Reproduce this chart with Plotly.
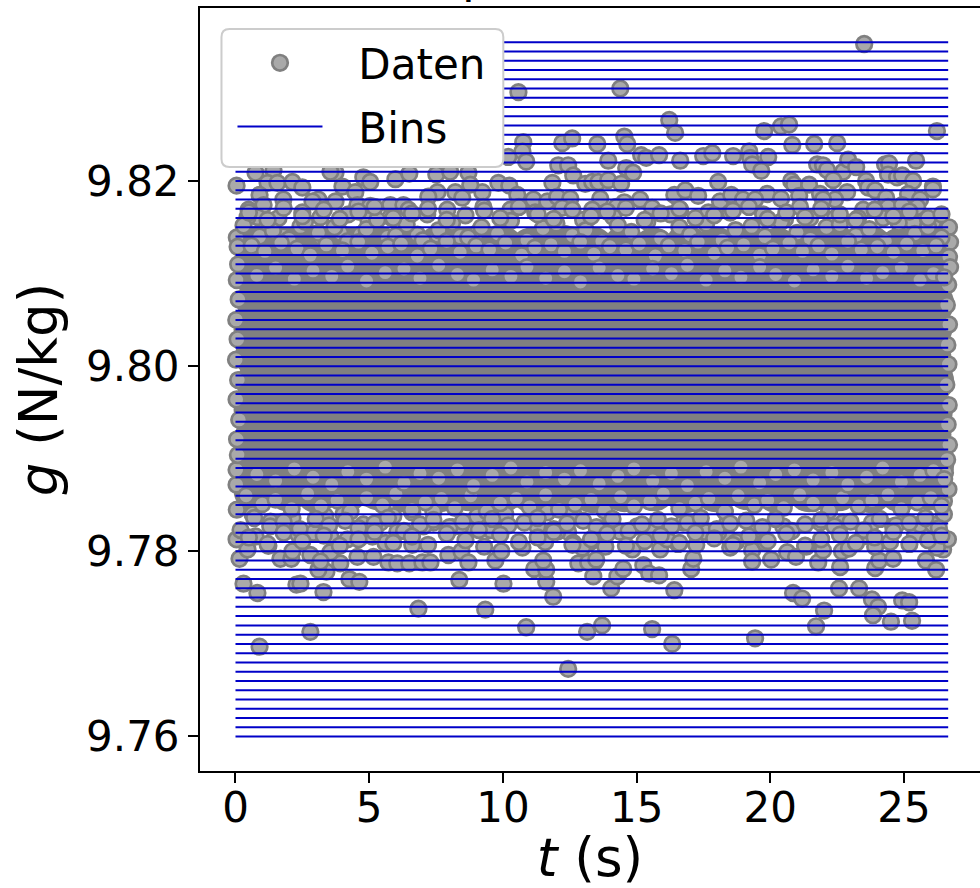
import plotly.graph_objects as go

t_top = [23.51,10.58,14.39,16.22,16.44,26.23,19.77,20.40,20.70,22.50,21.64,20.82,10.76,10.73,12.22,12.59,13.53,14.54,14.65,15.17,15.36,15.84,16.63,17.49,17.83,18.61,19.21,19.25,19.92,19.32,19.66,10.87,10.20,12.07,12.44,12.63,13.94,14.61,14.87,11.85,13.08,13.34,13.57,13.94,14.42,18.05,9.83,10.24,9.23,10.54,11.14,11.66,12.03,12.52,13.64,14.54,15.13,15.58,16.41,16.82,17.30,18.12,9.27,10.28,11.21,12.22,13.34,14.24,16.63,17.68,16.26,14.13,13.00,
 22.72,22.91,23.21,21.75,21.97,22.12,22.35,23.58,24.29,24.44,25.45,24.40,24.74,24.93,25.34,26.08,26.08,20.78,20.89,21.45,22.87,23.66,23.92,19.88,18.54,20.40,21.08,21.86,22.42,21.97,24.33,25.15,25.60,18.98,19.43,21.11,23.47,23.92,24.40,24.93,25.49,19.73,18.50,20.55,21.49,22.42,23.28,24.22,25.34,26.08,26.68,26.72,26.68,26.72,
 0.75,1.42,0.04,1.20,1.57,2.13,2.50,0.90,1.79,1.05,0.49,3.74,3.55,4.78,5.04,5.98,6.50,7.51,8.03,8.71,4.00,4.48,7.55,7.21,8.22,8.78,3.10,2.88,3.74,4.56,5.04,5.79,6.28,6.47,2.50,3.18,4.22,4.97,5.79,7.17,7.92,8.48,1.61,0.82,0.45,1.79,0.05,0.08,0.10,1.05,2.43,3.18,3.92,4.67,5.68,6.80,7.55,8.41,9.04]
g_top = [9.8348,9.8296,9.8300,9.8266,9.8252,9.8254,9.8254,9.8259,9.8261,9.8241,9.8240,9.8239,9.8242,9.8232,9.8241,9.8246,9.8240,9.8248,9.8240,9.8228,9.8225,9.8228,9.8222,9.8227,9.8230,9.8227,9.8232,9.8225,9.8226,9.8218,9.8211,9.8221,9.8226,9.8217,9.8217,9.8206,9.8222,9.8214,9.8209,9.8198,9.8197,9.8199,9.8199,9.8201,9.8197,9.8199,9.8198,9.8195,9.8188,9.8185,9.8180,9.8178,9.8183,9.8181,9.8181,9.8177,9.8180,9.8171,9.8185,9.8190,9.8184,9.8178,9.8172,9.8169,9.8166,9.8171,9.8169,9.8172,9.8169,9.8166,9.8164,9.8161,9.8158,
 9.8210,9.8223,9.8215,9.8218,9.8217,9.8212,9.8201,9.8200,9.8218,9.8219,9.8222,9.8207,9.8204,9.8206,9.8200,9.8194,9.8191,9.8200,9.8196,9.8196,9.8188,9.8193,9.8190,9.8186,9.8185,9.8181,9.8184,9.8186,9.8180,9.8180,9.8182,9.8186,9.8180,9.8180,9.8180,9.8172,9.8169,9.8169,9.8172,9.8174,9.8172,9.8164,9.8166,9.8159,9.8160,9.8160,9.8160,9.8160,9.8155,9.8155,9.8150,9.8134,9.8118,9.8107,
 9.8209,9.8212,9.8195,9.8198,9.8198,9.8199,9.8193,9.8185,9.8180,9.8174,9.8169,9.8209,9.8210,9.8204,9.8199,9.8202,9.8208,9.8207,9.8210,9.8209,9.8194,9.8188,9.8188,9.8183,9.8188,9.8196,9.8180,9.8178,9.8178,9.8174,9.8173,9.8174,9.8174,9.8169,9.8166,9.8161,9.8164,9.8158,9.8161,9.8164,9.8169,9.8182,9.8160,9.8161,9.8161,9.8140,9.8139,9.8129,9.8110,9.8142,9.8151,9.8140,9.8144,9.8142,9.8139,9.8142,9.8142,9.8140,9.8144]

t_bottom = [0.90,2.80,6.84,9.34,10.87,12.44,13.15,13.71,15.58,16.33,19.43,21.71,22.01,20.85,21.19,22.57,23.32,23.80,24.03,23.84,24.51,25.30,24.93,25.19,14.05,14.28,14.50,15.25,15.47,15.84,16.41,17.04,17.12,13.38,13.45,0.30,0.82,2.28,2.43,3.29,4.26,4.63,8.37,10.02,11.62,11.88,11.17,11.62,11.51,3.40,3.10,3.92,4.56,5.16,5.72,6.05,6.50,6.99,7.29,7.96,8.45,8.71,9.72,9.94,10.73,12.82,13.19,0.15,0.45,1.23,1.68,2.09,2.13,2.80,3.55,6.61,5.61,0.04,2.35,11.58,12.44,9.90,9.53,8.67,8.11,7.40,10.09,11.29,11.66,12.63,13.27,12.03,12.63,13.49,12.97,13.83,13.90,14.84,15.88,16.55,17.23,15.62,16.14,17.56,18.39,18.05,16.74,18.39,15.02,14.39,14.01,18.50,18.72,19.32,19.81,19.32,20.03,21.79,22.61,23.92,24.07,24.59,25.82,26.20,20.63,20.96,21.97,22.68,22.94,23.47,24.48,25.41,26.46,26.64,26.49,19.36,20.48,21.86,22.72,23.80,24.59,25.60,21.34,23.92,26.23,26.08,26.53,26.49,0.75,0.19,3.18,2.13,1.31,0.64,0.05,3.36,4.04,5.42,4.78,6.61,5.90,7.40,9.04,2.91,3.55,4.19,4.67,5.12,6.05,7.03,8.41,0.04,0.04]
g_bottom = [9.7697,9.7713,9.7738,9.7737,9.7718,9.7673,9.7713,9.7720,9.7716,9.7700,9.7706,9.7719,9.7736,9.7755,9.7749,9.7760,9.7760,9.7748,9.7740,9.7731,9.7724,9.7725,9.7747,9.7745,9.7760,9.7773,9.7781,9.7785,9.7776,9.7774,9.7758,9.7781,9.7792,9.7773,9.7789,9.7765,9.7755,9.7764,9.7765,9.7756,9.7770,9.7767,9.7769,9.7765,9.7767,9.7751,9.7781,9.7780,9.7790,9.7778,9.7780,9.7787,9.7794,9.7794,9.7788,9.7787,9.7787,9.7788,9.7788,9.7796,9.7800,9.7788,9.7790,9.7800,9.7804,9.7787,9.7788,9.7792,9.7802,9.7806,9.7792,9.7792,9.7800,9.7796,9.7799,9.7807,9.7809,9.7813,9.7818,9.7810,9.7821,9.7821,9.7823,9.7827,9.7826,9.7831,9.7840,9.7827,9.7842,9.7809,9.7810,9.7821,9.7840,9.7791,9.7804,9.7805,9.7821,9.7802,9.7802,9.7808,9.7807,9.7821,9.7813,9.7821,9.7816,9.7820,9.7831,9.7831,9.7827,9.7821,9.7836,9.7804,9.7810,9.7801,9.7809,9.7789,9.7791,9.7788,9.7783,9.7782,9.7790,9.7792,9.7790,9.7780,9.7799,9.7794,9.7801,9.7800,9.7803,9.7816,9.7810,9.7818,9.7802,9.7813,9.7840,9.7821,9.7827,9.7831,9.7831,9.7831,9.7827,9.7829,9.7805,9.7805,9.7804,9.7829,9.7885,9.7854,9.7816,9.7823,9.7789,9.7836,9.7832,9.7840,9.7845,9.7838,9.7840,9.7831,9.7829,9.7842,9.7838,9.7843,9.7838,9.7820,9.7816,9.7813,9.7815,9.7816,9.7821,9.7827,9.7827,9.7872,9.7888]

t_side = [0.05,0.12,0.03,0.08,0.02,0.10,0.04,0.14,0.06,0.09,26.65,26.60,26.68,26.62,26.66,26.58,26.67,26.63,26.68,26.61,26.66]
g_side = [9.8093,9.8072,9.8050,9.8029,9.8007,9.7985,9.7964,9.7942,9.7921,9.7904,9.8088,9.8066,9.8045,9.8023,9.8002,9.7980,9.7958,9.7937,9.7915,9.7899,9.7867]

# Crowded shoulders of the cloud, estimated by eye
t_upper = [0.3,0.9,1.4,2.0,2.6,3.1,3.7,4.2,4.9,5.3,6.0,6.4,7.0,7.6,8.1,8.7,9.2,9.8,10.3,10.9,11.5,12.0,12.6,13.1,13.7,14.3,14.8,15.4,15.9,16.6,17.0,17.6,18.2,18.7,19.3,19.8,20.4,21.0,21.5,22.1,22.6,23.2,23.7,24.3,24.8,25.4,25.9,26.4,
 0.6,1.1,1.7,2.3,2.8,3.4,4.0,4.6,5.1,5.7,6.2,6.8,7.3,7.9,8.4,9.0,9.5,10.1,10.7,11.2,11.8,12.3,12.9,13.4,14.0,14.6,15.1,15.7,16.2,16.8,17.3,17.9,18.4,19.0,19.6,20.1,20.7,21.2,21.8,22.3,22.9,23.4,24.0,24.6,25.1,25.7,26.2]
g_upper = [9.8152,9.8140,9.8146,9.8137,9.8156,9.8144,9.8150,9.8135,9.8148,9.8158,9.8141,9.8153,9.8136,9.8147,9.8155,9.8139,9.8150,9.8143,9.8157,9.8136,9.8149,9.8154,9.8141,9.8147,9.8135,9.8152,9.8145,9.8156,9.8138,9.8150,9.8142,9.8154,9.8136,9.8147,9.8151,9.8140,9.8156,9.8144,9.8137,9.8150,9.8153,9.8141,9.8148,9.8135,9.8155,9.8143,9.8150,9.8139,
 9.8130,9.8124,9.8133,9.8127,9.8120,9.8131,9.8125,9.8134,9.8122,9.8129,9.8132,9.8119,9.8127,9.8135,9.8123,9.8130,9.8126,9.8133,9.8120,9.8128,9.8131,9.8124,9.8134,9.8121,9.8129,9.8126,9.8132,9.8119,9.8130,9.8125,9.8134,9.8122,9.8128,9.8131,9.8120,9.8127,9.8133,9.8124,9.8130,9.8121,9.8135,9.8126,9.8129,9.8123,9.8132,9.8125,9.8130]

t_lower = [0.4,1.0,1.5,2.1,2.7,3.2,3.8,4.3,4.9,5.5,6.0,6.6,7.1,7.7,8.2,8.8,9.4,9.9,10.5,11.0,11.6,12.1,12.7,13.3,13.8,14.4,14.9,15.5,16.0,16.6,17.2,17.7,18.3,18.8,19.4,19.9,20.5,21.1,21.6,22.2,22.7,23.3,23.8,24.4,24.9,25.5,26.0,26.4,
 0.7,1.3,1.8,2.4,3.0,3.5,4.1,4.6,5.2,5.7,6.3,6.9,7.4,8.0,8.5,9.1,9.6,10.2,10.8,11.3,11.9,12.4,13.0,13.5,14.1,14.7,15.2,15.8,16.3,16.9,17.4,18.0,18.5,19.1,19.7,20.2,20.8,21.3,21.9,22.4,23.0,23.5,24.1,24.7,25.2,25.8,26.3]
g_lower = [9.7860,9.7851,9.7856,9.7846,9.7862,9.7849,9.7855,9.7843,9.7858,9.7850,9.7862,9.7845,9.7853,9.7857,9.7847,9.7860,9.7843,9.7852,9.7857,9.7848,9.7861,9.7845,9.7851,9.7856,9.7844,9.7859,9.7849,9.7854,9.7862,9.7846,9.7852,9.7857,9.7843,9.7860,9.7850,9.7855,9.7847,9.7861,9.7852,9.7844,9.7858,9.7849,9.7855,9.7861,9.7846,9.7853,9.7858,9.7849,
 9.7836,9.7827,9.7832,9.7824,9.7835,9.7828,9.7833,9.7825,9.7830,9.7836,9.7822,9.7829,9.7834,9.7826,9.7832,9.7823,9.7835,9.7828,9.7831,9.7836,9.7824,9.7830,9.7833,9.7826,9.7835,9.7822,9.7829,9.7834,9.7827,9.7831,9.7836,9.7824,9.7830,9.7833,9.7826,9.7835,9.7822,9.7829,9.7834,9.7827,9.7832,9.7823,9.7835,9.7828,9.7831,9.7836,9.7825]

t_band_a = [0.5,1.2,1.8,2.5,3.3,3.9,4.6,5.2,5.9,6.6,7.2,7.9,8.6,9.3,9.9,10.6,11.3,11.9,12.6,13.3,13.9,14.6,15.3,15.9,16.6,17.2,17.9,18.6,19.2,19.9,20.6,21.3,21.9,22.6,23.2,23.9,24.6,25.2,25.9,26.4]
t_band_b = [0.8,1.5,2.2,2.9,3.6,4.2,4.9,5.6,6.3,6.9,7.6,8.3,8.9,9.6,10.3,10.9,11.6,12.3,12.9,13.6,14.3,14.9,15.6,16.3,16.9,17.6,18.3,18.9,19.6,20.2,20.9,21.6,22.3,22.9,23.6,24.2,24.9,25.6,26.1,26.5]
g_shoulder_high = [9.8166,9.8158,9.8171,9.8162,9.8169,9.8159,9.8167,9.8172,9.8160,9.8165,9.8170,9.8158,9.8163,9.8168,9.8160,9.8172,9.8164,9.8159,9.8169,9.8162,9.8167,9.8171,9.8158,9.8165,9.8170,9.8160,9.8163,9.8168,9.8172,9.8159,9.8166,9.8161,9.8170,9.8164,9.8158,9.8169,9.8162,9.8167,9.8160,9.8164]
g_inner_high = [9.8098,9.8106,9.8094,9.8103,9.8097,9.8108,9.8092,9.8101,9.8105,9.8095,9.8109,9.8099,9.8093,9.8104,9.8097,9.8107,9.8095,9.8102,9.8091,9.8106,9.8098,9.8094,9.8105,9.8100,9.8109,9.8093,9.8103,9.8096,9.8107,9.8099,9.8092,9.8104,9.8097,9.8108,9.8095,9.8101,9.8106,9.8093,9.8100,9.8096]
g_inner_low = [9.7883,9.7876,9.7889,9.7880,9.7872,9.7886,9.7878,9.7891,9.7874,9.7884,9.7879,9.7888,9.7871,9.7882,9.7890,9.7875,9.7885,9.7878,9.7887,9.7873,9.7881,9.7889,9.7876,9.7884,9.7871,9.7886,9.7879,9.7891,9.7874,9.7883,9.7888,9.7877,9.7885,9.7872,9.7880,9.7890,9.7875,9.7882,9.7887,9.7878]
g_shoulder_low = [9.7815,9.7808,9.7820,9.7811,9.7817,9.7806,9.7813,9.7821,9.7809,9.7816,9.7807,9.7819,9.7812,9.7805,9.7818,9.7810,9.7815,9.7821,9.7807,9.7813,9.7819,9.7806,9.7811,9.7817,9.7809,9.7820,9.7814,9.7807,9.7816,9.7811,9.7819,9.7806,9.7813,9.7818,9.7809,9.7815,9.7821,9.7808,9.7812,9.7817]

# Core of the cloud: single points overlap too heavily to read here, so these
# estimated points are drawn solid and large, only to give its closed grey mass.
t_core = [0.80,1.95,3.05,4.15,5.35,6.45,7.65,8.75,9.95,11.05,12.25,13.35,14.55,15.65,16.85,17.95,19.15,20.25,21.45,22.55,23.75,24.85,25.95,
 0.75,1.85,3.00,4.25,5.30,6.55,7.60,8.85,9.90,11.15,12.20,13.45,14.50,15.75,16.80,18.05,19.10,20.35,21.40,22.65,23.70,24.95,26.00,
 0.85,1.90,3.10,4.20,5.40,6.50,7.70,8.80,10.00,11.10,12.30,13.40,14.60,15.70,16.90,18.00,19.20,20.30,21.50,22.60,23.80,24.90,26.05,
 0.75,1.95,3.00,4.15,5.30,6.45,7.60,8.75,9.90,11.05,12.20,13.35,14.50,15.65,16.80,17.95,19.10,20.25,21.40,22.55,23.70,24.85,26.00,
 0.80,1.85,3.05,4.25,5.35,6.55,7.65,8.85,9.95,11.15,12.25,13.45,14.55,15.75,16.85,18.05,19.15,20.35,21.45,22.65,23.75,24.95,25.95,
 0.85,1.90,3.00,4.20,5.30,6.50,7.60,8.80,9.90,11.10,12.20,13.40,14.50,15.70,16.80,18.00,19.10,20.30,21.40,22.60,23.70,24.90,26.05,
 0.75,1.95,3.10,4.15,5.40,6.45,7.70,8.75,10.00,11.05,12.30,13.35,14.60,15.65,16.90,17.95,19.20,20.25,21.50,22.55,23.80,24.85,26.00,
 0.80,1.85,3.05,4.25,5.35,6.55,7.65,8.85,9.95,11.15,12.25,13.45,14.55,15.75,16.85,18.05,19.15,20.35,21.45,22.65,23.75,24.95,25.95,
 0.85,1.90,3.00,4.20,5.30,6.50,7.60,8.80,9.90,11.10,12.20,13.40,14.50,15.70,16.80,18.00,19.10,20.30,21.40,22.60,23.70,24.90,26.05,
 0.75,1.95,3.05,4.15,5.35,6.45,7.65,8.75,9.95,11.05,12.25,13.35,14.55,15.65,16.85,17.95,19.15,20.25,21.45,22.55,23.75,24.85,26.00]
g_core = [9.8128,9.8126,9.8129,9.8127,9.8128,9.8126,9.8129,9.8127,9.8128,9.8126,9.8129,9.8127,9.8128,9.8126,9.8129,9.8127,9.8128,9.8126,9.8129,9.8127,9.8128,9.8126,9.8129,
 9.8099,9.8100,9.8098,9.8099,9.8101,9.8098,9.8099,9.8100,9.8098,9.8099,9.8101,9.8098,9.8099,9.8100,9.8098,9.8099,9.8101,9.8098,9.8099,9.8100,9.8098,9.8099,9.8101,
 9.8070,9.8069,9.8071,9.8070,9.8068,9.8071,9.8070,9.8069,9.8071,9.8070,9.8068,9.8071,9.8070,9.8069,9.8071,9.8070,9.8068,9.8071,9.8070,9.8069,9.8071,9.8070,9.8068,
 9.8040,9.8041,9.8039,9.8040,9.8042,9.8039,9.8040,9.8041,9.8039,9.8040,9.8042,9.8039,9.8040,9.8041,9.8039,9.8040,9.8042,9.8039,9.8040,9.8041,9.8039,9.8040,9.8042,
 9.8011,9.8010,9.8012,9.8011,9.8009,9.8012,9.8011,9.8010,9.8012,9.8011,9.8009,9.8012,9.8011,9.8010,9.8012,9.8011,9.8009,9.8012,9.8011,9.8010,9.8012,9.8011,9.8009,
 9.7982,9.7983,9.7981,9.7982,9.7984,9.7981,9.7982,9.7983,9.7981,9.7982,9.7984,9.7981,9.7982,9.7983,9.7981,9.7982,9.7984,9.7981,9.7982,9.7983,9.7981,9.7982,9.7984,
 9.7953,9.7952,9.7954,9.7953,9.7951,9.7954,9.7953,9.7952,9.7954,9.7953,9.7951,9.7954,9.7953,9.7952,9.7954,9.7953,9.7951,9.7954,9.7953,9.7952,9.7954,9.7953,9.7951,
 9.7924,9.7925,9.7923,9.7924,9.7926,9.7923,9.7924,9.7925,9.7923,9.7924,9.7926,9.7923,9.7924,9.7925,9.7923,9.7924,9.7926,9.7923,9.7924,9.7925,9.7923,9.7924,9.7926,
 9.7895,9.7894,9.7896,9.7895,9.7893,9.7896,9.7895,9.7894,9.7896,9.7895,9.7893,9.7896,9.7895,9.7894,9.7896,9.7895,9.7893,9.7896,9.7895,9.7894,9.7896,9.7895,9.7893,
 9.7866,9.7867,9.7865,9.7866,9.7868,9.7865,9.7866,9.7867,9.7865,9.7866,9.7868,9.7865,9.7866,9.7867,9.7865,9.7866,9.7868,9.7865,9.7866,9.7867,9.7865,9.7866,9.7868]

bin_edges = [9.760,9.761,9.762,9.763,9.764,9.765,9.766,9.767,9.768,9.769,9.770,9.771,9.772,9.773,9.774,9.775,9.776,9.777,9.778,9.779,9.780,9.781,9.782,9.783,9.784,9.785,9.786,9.787,9.788,9.789,9.790,9.791,9.792,9.793,9.794,9.795,9.796,9.797,9.798,9.799,9.800,9.801,9.802,9.803,9.804,9.805,9.806,9.807,9.808,9.809,9.810,9.811,9.812,9.813,9.814,9.815,9.816,9.817,9.818,9.819,9.820,9.821,9.822,9.823,9.824,9.825,9.826,9.827,9.828,9.829,9.830,9.831,9.832,9.833,9.834,9.835]
bin_t_start, bin_t_end = 0.0, 26.65
x_ticks = [0, 5, 10, 15, 20, 25]
y_ticks = [9.76, 9.78, 9.80, 9.82]
y_tick_labels = ["9.76", "9.78", "9.80", "9.82"]

W, H = 980, 888
L, R, T, B = 199.5, 980, 8, 771
FONT = "DejaVu Sans"
TICK_SIZE, LEGEND_SIZE, TITLE_SIZE = 42, 42, 53
GAP = "\u00a0\u00a0\u200a"

bx, by = [], []
for e in bin_edges:
    bx += [bin_t_start, bin_t_end, None]
    by += [e, e, None]

edge = dict(color="#808080", width=2.7)
fig = go.Figure()
fig.add_trace(go.Scatter(x=t_core, y=g_core, mode="markers", showlegend=False, hoverinfo="skip",
                         marker=dict(size=44, color="#808080", line=dict(width=0))))
fig.add_trace(go.Scatter(x=t_top + t_bottom + t_side + t_upper + t_lower + t_band_a + t_band_b + t_band_b + t_band_a,
                         y=g_top + g_bottom + g_side + g_upper + g_lower + g_shoulder_high + g_inner_high + g_inner_low + g_shoulder_low,
                         mode="markers", name=GAP + "Daten", legendgroup="a",
                         marker=dict(size=15.6, color="#a9a9a9", line=edge)))
fig.add_trace(go.Scatter(x=bx, y=by, mode="lines", name=GAP + "Bins", legendgroup="b",
                         line=dict(color="#0000c8", width=2)))

def fx(p): return (p - L) / (R - L)
def fy(p): return (B - p) / (B - T)

x0, x1, y0, y1, r = 221, 503, 29, 167, 8
frame = (f"M {fx(x0+r)} {fy(y0)} L {fx(x1-r)} {fy(y0)} Q {fx(x1)} {fy(y0)} {fx(x1)} {fy(y0+r)} "
         f"L {fx(x1)} {fy(y1-r)} Q {fx(x1)} {fy(y1)} {fx(x1-r)} {fy(y1)} "
         f"L {fx(x0+r)} {fy(y1)} Q {fx(x0)} {fy(y1)} {fx(x0)} {fy(y1-r)} "
         f"L {fx(x0)} {fy(y0+r)} Q {fx(x0)} {fy(y0)} {fx(x0+r)} {fy(y0)} Z")

fig.update_layout(
    width=W, height=H, autosize=False, paper_bgcolor="white", plot_bgcolor="white",
    margin=dict(l=L, r=W - R, t=T, b=H - B, pad=0),
    font=dict(family=FONT, size=TICK_SIZE, color="black"),
    shapes=[dict(type="path", xref="paper", yref="paper", path=frame, layer="above",
                 fillcolor="white", line=dict(color="#cccccc", width=2))],
    legend=dict(x=fx(232), y=fy(29), xanchor="left", yanchor="top", bgcolor="rgba(0,0,0,0)",
                borderwidth=0, itemwidth=85, itemsizing="trace", tracegroupgap=6,
                font=dict(family=FONT, size=LEGEND_SIZE)),
    annotations=[dict(text="p", xref="paper", yref="paper", x=fx(477), y=fy(5), xanchor="center",
                      yanchor="bottom", showarrow=False, font=dict(family=FONT, size=47))],
    xaxis=dict(range=[-1.327, 27.84], tickvals=x_ticks, ticks="outside", ticklen=10, tickwidth=2,
               tickcolor="black", showline=True, linewidth=2, linecolor="black", mirror=True,
               showgrid=False, zeroline=False, tickfont=dict(family=FONT, size=TICK_SIZE),
               ticklabelstandoff=-11,
               title=dict(text="<i>t</i> (s)", font=dict(family=FONT, size=TITLE_SIZE), standoff=8)),
    yaxis=dict(range=[9.75627, 9.83869], tickvals=y_ticks, ticktext=y_tick_labels, ticks="outside",
               ticklen=10, tickwidth=2, tickcolor="black", showline=True, linewidth=2,
               linecolor="black", showgrid=False, zeroline=False,
               tickfont=dict(family=FONT, size=TICK_SIZE),
               title=dict(text="<i>g</i> (N/kg)", font=dict(family=FONT, size=TITLE_SIZE), standoff=12)),
)
fig.write_html("out.html", config={"displayModeBar": False}, post_script="document.body.style.margin='0';")
